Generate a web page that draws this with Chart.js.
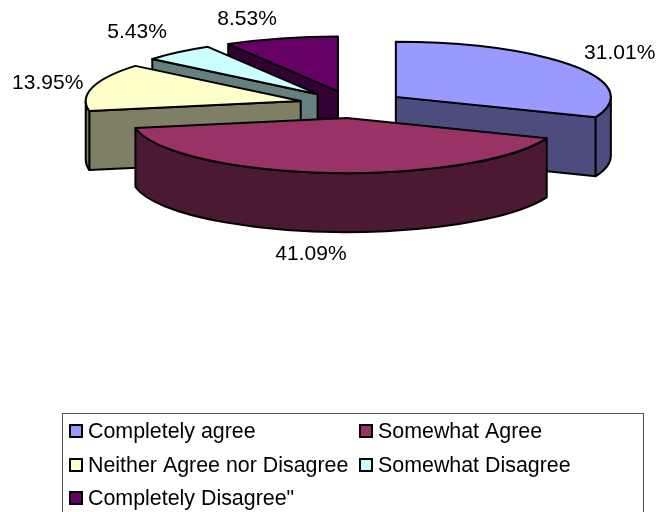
<!DOCTYPE html>
<html>
<head>
<meta charset="utf-8">
<title>Pie</title>
<script src="https://cdn.jsdelivr.net/npm/chart.js@4/dist/chart.umd.js"></script>
<style>
	html, body { margin: 0; padding: 0; background: #fff; }
	canvas { display: block; }
</style>
</head>
<body>
<canvas id="pie" width="658" height="512"></canvas>
<script>
var categories = ['Completely agree', 'Somewhat Agree', 'Neither Agree nor Disagree', 'Somewhat Disagree', 'Completely Disagree"'];
var shares = [31.01, 41.09, 13.95, 5.43, 8.53];
var topColors = ['#9999FF', '#993366', '#FFFFCC', '#CCFFFF', '#660066'];
var sideColors = ['#4C4C7F', '#4C1933', '#7F7F66', '#667F7F', '#330033'];

// back to front, so nearer slices cover the ones behind
var paintOrder = [4, 3, 2, 0, 1];

var LABEL_FONT = '21px "Liberation Sans", Arial, sans-serif';
var LEGEND_FONT = '21.4px "Liberation Sans", Arial, sans-serif';
var SQUASH = 0.256;
var DEPTH = 59;
var EXPLODE = 53;

// label centre relative to the slice's rim point at its mid angle
var labelNudge = [[46, -13], [-15, 22], [-45, -4], [-41, -20], [-34, -19]];

function centerY( chart ) {
	return ( chart.chartArea.top + chart.chartArea.bottom ) / 2;
}

function screenApex( chart, arc ) {
	var cy = centerY( chart );
	return { x: arc.x, y: cy + ( arc.y - cy ) * SQUASH };
}

class Pie3DController extends Chart.PieController {
	update( mode ) {
		super.update( mode );
		// the arc "offset" option also grows small slices, so move the elements instead
		this._cachedMeta.data.forEach( function ( arc ) {
			var mid = ( arc.startAngle + arc.endAngle ) / 2;
			arc.x += Math.cos( mid ) * EXPLODE;
			arc.y += Math.sin( mid ) * EXPLODE;
		} );
	}

	draw() {
		var chart = this.chart;
		var ctx = chart.ctx;
		var arcs = this._cachedMeta.data;
		var cy = centerY( chart );

		paintOrder.forEach( function ( i ) {
			var arc = arcs[i];
			var p = screenApex( chart, arc );
			var r = arc.outerRadius;
			var ry = r * SQUASH;
			var a0 = arc.startAngle;
			var a1 = arc.endAngle;

			ctx.save();
			ctx.lineWidth = 2;
			ctx.lineJoin = 'round';
			ctx.strokeStyle = '#000';
			ctx.fillStyle = sideColors[i];

			// flat cut face, only the one turned towards the viewer
			var face = null;
			if ( Math.cos( a0 ) < -1e-6 ) {
				face = a0;
			} else if ( Math.cos( a1 ) > 1e-6 ) {
				face = a1;
			}
			if ( face !== null ) {
				var fx = p.x + r * Math.cos( face );
				var fy = p.y + ry * Math.sin( face );
				ctx.beginPath();
				ctx.moveTo( p.x, p.y );
				ctx.lineTo( fx, fy );
				ctx.lineTo( fx, fy + DEPTH );
				ctx.lineTo( p.x, p.y + DEPTH );
				ctx.closePath();
				ctx.fill();
				ctx.stroke();
			}

			// curved rim on the front half of the ellipse
			var from = Math.max( a0, 0 );
			var to = Math.min( a1, Math.PI );
			if ( to > from ) {
				ctx.beginPath();
				ctx.ellipse( p.x, p.y, r, ry, 0, from, to );
				ctx.ellipse( p.x, p.y + DEPTH, r, ry, 0, to, from, true );
				ctx.closePath();
				ctx.fill();
				ctx.stroke();
			}

			// top of the slice, flattened by the transform
			ctx.save();
			ctx.translate( 0, cy );
			ctx.scale( 1, SQUASH );
			ctx.translate( 0, -cy );
			arc.draw( ctx );
			ctx.restore();

			// outline stroked outside the transform to keep an even width
			ctx.beginPath();
			ctx.moveTo( p.x, p.y );
			ctx.ellipse( p.x, p.y, r, ry, 0, a0, a1 );
			ctx.closePath();
			ctx.stroke();
			ctx.restore();
		} );
	}
}
Pie3DController.id = 'pie3d';
Chart.register( Pie3DController );

var sliceLabels = {
	id: 'sliceLabels',
	afterDatasetsDraw: function ( chart ) {
		var ctx = chart.ctx;
		var arcs = chart.getDatasetMeta( 0 ).data;
		ctx.save();
		ctx.font = LABEL_FONT;
		ctx.fillStyle = '#000';
		ctx.textAlign = 'center';
		ctx.textBaseline = 'middle';
		arcs.forEach( function ( arc, i ) {
			var mid = ( arc.startAngle + arc.endAngle ) / 2;
			var p = screenApex( chart, arc );
			var x = p.x + arc.outerRadius * Math.cos( mid );
			var y = p.y + arc.outerRadius * SQUASH * Math.sin( mid );
			// rim points on the near side sit at the bottom of the wall
			if ( Math.sin( mid ) > 0 ) {
				y += DEPTH;
			}
			ctx.fillText( shares[i].toFixed( 2 ) + '%', x + labelNudge[i][0], y + labelNudge[i][1] );
		} );
		ctx.restore();
	}
};

var boxedLegend = {
	id: 'boxedLegend',
	afterDraw: function ( chart ) {
		var ctx = chart.ctx;
		var columns = [69, 359];
		var rows = [431, 465, 498];
		ctx.save();
		ctx.strokeStyle = '#555';
		ctx.lineWidth = 1;
		ctx.strokeRect( 62.5, 413.5, 581, 110 );
		ctx.font = LEGEND_FONT;
		ctx.textBaseline = 'middle';
		ctx.textAlign = 'left';
		categories.forEach( function ( name, i ) {
			var x = columns[i % 2];
			var y = rows[Math.floor( i / 2 )];
			ctx.fillStyle = topColors[i];
			ctx.fillRect( x, y - 7, 14, 14 );
			ctx.strokeStyle = '#000';
			ctx.lineWidth = 2;
			ctx.strokeRect( x + 1, y - 6, 12, 12 );
			ctx.fillStyle = '#000';
			ctx.fillText( name, x + 19, y + 1 );
		} );
		ctx.restore();
	}
};

new Chart( document.getElementById( 'pie' ), {
	type: 'pie3d',
	data: {
		labels: categories,
		datasets: [ {
			data: shares,
			backgroundColor: topColors,
			borderWidth: 0,
			clip: false
		} ]
	},
	options: {
		responsive: false,
		animation: false,
		events: [],
		radius: 215,
		layout: { padding: { left: 46, bottom: 303 } },
		plugins: {
			legend: { display: false },
			tooltip: { enabled: false }
		}
	},
	plugins: [ sliceLabels, boxedLegend ]
} );
</script>
</body>
</html>
